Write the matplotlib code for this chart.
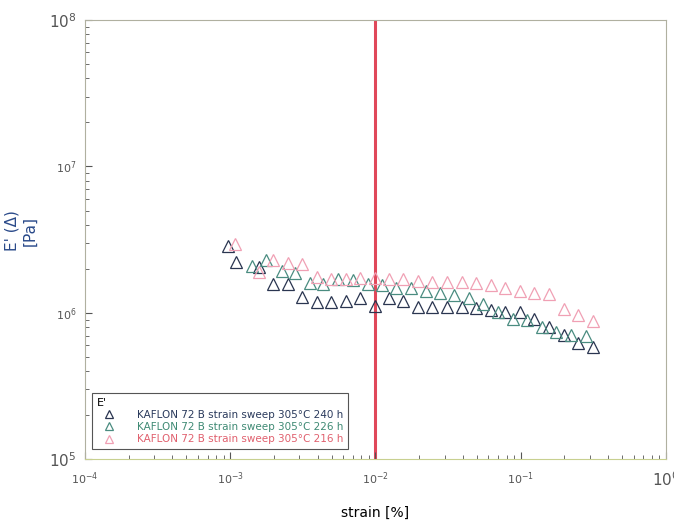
import matplotlib.pyplot as plt

# strain [%] and E' [Pa]
strain_240 = [9.6e-4, 1.095e-3, 1.58e-3, 1.97e-3, 2.5e-3, 3.12e-3, 3.96e-3, 4.94e-3,
              6.26e-3, 7.82e-3, 9.93e-3, 0.0124, 0.0155, 0.0196, 0.0245, 0.0311,
              0.0394, 0.0492, 0.0624, 0.0779, 0.0988, 0.1234, 0.156, 0.1985, 0.248, 0.314]
E_240 = [2.87e6, 2.23e6, 2.06e6, 1.58e6, 1.58e6, 1.29e6, 1.19e6, 1.19e6,
         1.21e6, 1.27e6, 1.11e6, 1.27e6, 1.21e6, 1.10e6, 1.10e6, 1.10e6,
         1.10e6, 1.08e6, 1.05e6, 1.02e6, 1.02e6, 9.1e5, 8.0e5, 7.08e5, 6.24e5, 5.86e5]

strain_226 = [1.41e-3, 1.76e-3, 2.27e-3, 2.79e-3, 3.54e-3, 4.35e-3, 5.52e-3, 7.0e-3,
              8.88e-3, 0.0111, 0.0138, 0.0175, 0.0223, 0.0278, 0.0347, 0.044,
              0.055, 0.0697, 0.0885, 0.110, 0.140, 0.175, 0.222, 0.281]
E_226 = [2.09e6, 2.30e6, 1.94e6, 1.87e6, 1.60e6, 1.58e6, 1.71e6, 1.68e6,
         1.58e6, 1.55e6, 1.48e6, 1.48e6, 1.41e6, 1.37e6, 1.33e6, 1.27e6,
         1.15e6, 1.02e6, 9.1e5, 8.96e5, 8.0e5, 7.4e5, 7.08e5, 6.97e5]

strain_216 = [1.08e-3, 1.58e-3, 1.97e-3, 2.5e-3, 3.12e-3, 3.96e-3, 4.94e-3, 6.26e-3,
              7.82e-3, 9.93e-3, 0.0124, 0.0155, 0.0196, 0.0245, 0.0311, 0.0394,
              0.0492, 0.0624, 0.0779, 0.0988, 0.1234, 0.156, 0.1985, 0.248, 0.314]
E_216 = [2.96e6, 1.91e6, 2.30e6, 2.19e6, 2.16e6, 1.76e6, 1.71e6, 1.71e6,
         1.73e6, 1.73e6, 1.71e6, 1.71e6, 1.65e6, 1.63e6, 1.63e6, 1.63e6,
         1.60e6, 1.55e6, 1.48e6, 1.41e6, 1.37e6, 1.35e6, 1.07e6, 9.7e5, 8.8e5]

labels = ["KAFLON 72 B strain sweep 305°C 240 h",
          "KAFLON 72 B strain sweep 305°C 226 h",
          "KAFLON 72 B strain sweep 305°C 216 h"]
marker_colors = ["#2a3550", "#4a8c80", "#f0a0b4"]
text_colors = ["#2a3a5c", "#3f8a74", "#e0606e"]

x_ticks = [1e-4, 1e-3, 1e-2, 1e-1, 1e0]
x_ticklabels = ["$10^{-4}$", "$10^{-3}$", "$10^{-2}$", "$10^{-1}$", "$10^{0}$"]
y_ticks = [1e5, 1e6, 1e7, 1e8]
y_ticklabels = ["$10^{5}$", "$10^{6}$", "$10^{7}$", "$10^{8}$"]

fig = plt.figure(figsize=(6.74, 5.25), dpi=100)
ax = fig.add_axes([0.126, 0.125, 0.862, 0.837])

series = [(strain_240, E_240), (strain_226, E_226), (strain_216, E_216)]
for (x, y), lab, c in zip(series, labels, marker_colors):
    ax.plot(x, y, linestyle='none', marker='^', markersize=8, markerfacecolor='none',
            markeredgecolor=c, markeredgewidth=0.9, label=lab)

ax.axvline(1e-2, color='#e0485a', linewidth=2.2, zorder=1)

ax.set_xscale('log')
ax.set_yscale('log')
ax.set_xlim(1e-4, 1e0)
ax.set_ylim(1e5, 1e8)

ax.set_xticks(x_ticks)
ax.set_xticklabels(x_ticklabels)
ax.set_yticks(y_ticks)
ax.set_yticklabels(y_ticklabels)
ax.tick_params(which='both', direction='in', colors='#555555', labelcolor='#555555')
ax.tick_params(which='major', length=5, labelsize=8)
ax.tick_params(which='minor', length=3)
ax.tick_params(axis='x', pad=8)
ax.tick_params(axis='y', pad=6)

# the end labels are printed bigger in the original
for lbl in [ax.get_xticklabels()[-1], ax.get_yticklabels()[0], ax.get_yticklabels()[-1]]:
    lbl.set_fontsize(11)

for side in ['top', 'right', 'left']:
    ax.spines[side].set_color('#b0b0a0')
ax.spines['bottom'].set_color('#c8d090')

ax.set_xlabel("strain [%]", fontsize=10)
ax.xaxis.set_label_coords(0.5, -0.105)
ax.set_ylabel("E' (Δ)\n[Pa]", fontsize=11, color='#2a4a8a')
ax.yaxis.set_label_coords(-0.082, 0.52)

leg = ax.legend(loc='lower left', bbox_to_anchor=(0.004, 0.012), title="E'",
                alignment='left', fontsize=7.5, title_fontsize=8, fancybox=False,
                edgecolor='#555555', framealpha=1, borderpad=0.45, handletextpad=1.6,
                labelspacing=0.2, markerscale=0.7, handlelength=2.2)
leg.get_frame().set_linewidth(0.8)
for t, c in zip(leg.get_texts(), text_colors):
    t.set_color(c)

fig.savefig("out.png", dpi=100)
